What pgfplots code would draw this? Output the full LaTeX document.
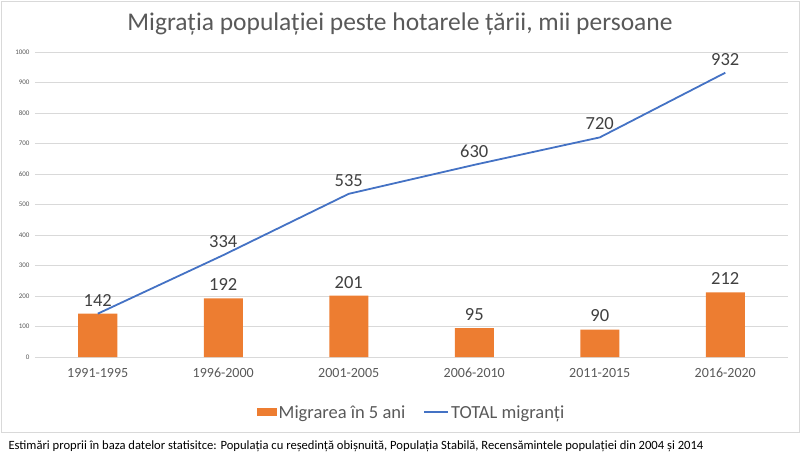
\documentclass[border=0pt]{standalone}
\usepackage{fontspec}
\setmainfont{Carlito}
\usepackage{pgfplots}
\pgfplotsset{compat=1.18}
\definecolor{barorange}{HTML}{ED7D31}
\definecolor{lineblue}{HTML}{4472C4}
\definecolor{txtgray}{HTML}{595959}
\definecolor{lblgray}{HTML}{404040}
\definecolor{gridgray}{HTML}{D9D9D9}

\begin{document}
\begin{tikzpicture}[x=1pt,y=1pt]
  \useasboundingbox (0,0) rectangle (800,458);
  \draw[gridgray,line width=0.8pt] (1,26) rectangle (799,457);
  \node[txtgray,font=\fontsize{25.5}{30}\selectfont] at (400,434) {Migrația populației peste hotarele țării, mii persoane};
  \node[anchor=west,black,font=\fontsize{12.6}{14}\selectfont] at (5,12) {Estimări proprii în baza datelor statisitce: Populația cu reședință obișnuită, Populația Stabilă, Recensămintele populației din 2004 și 2014};
  \begin{axis}[
    at={(35pt,101pt)},anchor=south west,
    scale only axis,width=753pt,height=305pt,
    xmin=-0.5,xmax=5.5,ymin=0,ymax=1000,
    xtick={0,...,5},
    xticklabels={1991-1995,1996-2000,2001-2005,2006-2010,2011-2015,2016-2020},
    ytick={0,100,...,1000},
    ymajorgrids,grid style={gridgray,line width=0.8pt},
    axis line style={draw=none},
    major tick length=0pt,
    /pgf/number format/assume math mode=true,
    /pgf/number format/1000 sep={},
    yticklabel style={font=\fontsize{7}{8}\selectfont,txtgray,xshift=-2pt},
    xticklabel style={font=\fontsize{14}{16}\selectfont,txtgray,yshift=-8pt},
    nodes near coords style={font=\fontsize{18.5}{20}\selectfont,lblgray,anchor=south,yshift=4pt},
    legend style={at={(0.5,-0.183)},anchor=center,draw=none,fill=none,
      font=\fontsize{18.5}{20}\selectfont,txtgray,legend columns=2,
      /tikz/every even column/.append style={column sep=16pt}},
  ]
    \addplot[ybar,bar width=39pt,fill=barorange,draw=none,nodes near coords,
      legend image code/.code={\fill[barorange] (0pt,-3pt) rectangle (20pt,5pt);}]
      coordinates {(0,142) (1,192) (2,201) (3,95) (4,90) (5,212)};
    \addlegendentry{Migrarea în 5 ani}
    \addplot[lineblue,line width=1.8pt,mark=none,
      legend image code/.code={\draw[lineblue,line width=1.8pt] (0pt,1pt) -- (24pt,1pt);}]
      coordinates {(0,142) (1,334) (2,535) (3,630) (4,720) (5,932)};
    \addlegendentry{TOTAL migranți}
    \addplot[draw=none,mark=none,nodes near coords,forget plot]
      coordinates {(1,334) (2,535) (3,630) (4,720) (5,932)};
  \end{axis}
\end{tikzpicture}
\end{document}
